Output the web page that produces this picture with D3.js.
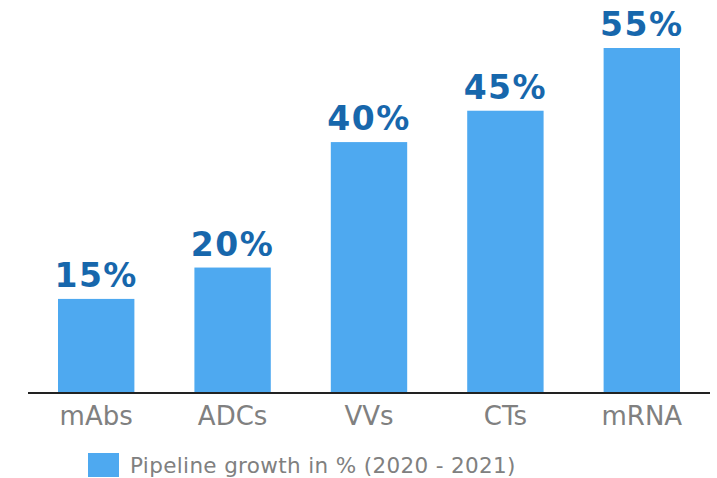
<!DOCTYPE html>
<html><head><meta charset="utf-8">
<script src="https://cdn.jsdelivr.net/npm/d3@7"></script>
<style>body{margin:0;background:#fff;} svg{display:block;}</style>
</head><body>
<svg id="c" width="717" height="478"></svg>
<script>
const categories = ["mAbs", "ADCs", "VVs", "CTs", "mRNA"];
const growthValues = [15, 20, 40, 45, 55];
const valueLabels = ["15%", "20%", "40%", "45%", "55%"];
const seriesName = "Pipeline growth in % (2020 - 2021)";

const svg = d3.select("#c");
const font = "'DejaVu Sans', Verdana, sans-serif";
const baseY = 393;
const x = d3.scaleBand().domain(categories).range([28, 710]).paddingInner(0.44).paddingOuter(0.22);
const y = d3.scaleLinear().domain([0, 55]).range([baseY, 48]);

svg.selectAll("rect.bar").data(growthValues).join("rect")
  .attr("class", "bar")
  .attr("x", (d, i) => x(categories[i]))
  .attr("width", x.bandwidth())
  .attr("y", d => y(d))
  .attr("height", d => baseY - y(d))
  .attr("fill", "#4ea9f0");

svg.selectAll("text.val").data(growthValues).join("text")
  .attr("class", "val")
  .attr("x", (d, i) => x(categories[i]) + x.bandwidth() / 2)
  .attr("y", d => y(d) - 12)
  .attr("text-anchor", "middle")
  .attr("font-family", font).attr("font-weight", "bold").attr("font-size", 33)
  .attr("letter-spacing", 1.5)
  .attr("fill", "#1767ac")
  .text((d, i) => valueLabels[i]);

const axis = svg.append("g").attr("transform", `translate(0,${baseY})`)
  .call(d3.axisBottom(x).tickSize(0).tickPadding(14));
axis.select(".domain").attr("stroke", "#222").attr("stroke-width", 2).attr("d", "M28,0H710");
axis.selectAll("text").attr("font-family", font).attr("font-size", 26).attr("fill", "#808080");

const leg = svg.append("g");
leg.append("rect").attr("x", 88).attr("y", 453).attr("width", 31).attr("height", 24).attr("fill", "#4ea9f0");
leg.append("text").attr("x", 130).attr("y", 473).attr("font-family", font).attr("font-size", 21.5)
  .attr("letter-spacing", 0.35)
  .attr("fill", "#808080").text(seriesName);
</script>
</body></html>
